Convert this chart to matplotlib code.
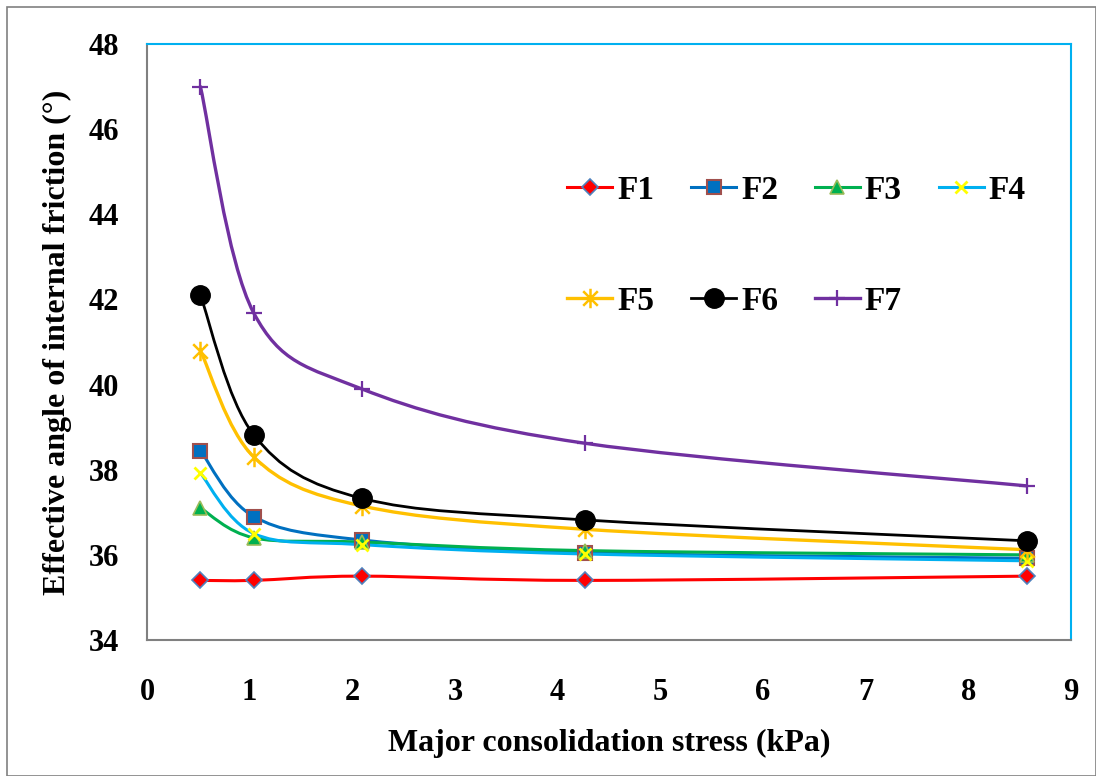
import numpy as np
import matplotlib
matplotlib.use('Agg')
import matplotlib.pyplot as plt
from matplotlib.path import Path
from matplotlib.patches import PathPatch, Rectangle
from matplotlib.lines import Line2D

plt.rcParams['font.family'] = ['Liberation Serif', 'DejaVu Serif']
plt.rcParams['font.weight'] = 'bold'

# major consolidation stress (kPa)
stress = [0.52, 1.04, 2.09, 4.27, 8.57]

f1 = [35.4, 35.4, 35.5, 35.4, 35.5]
f2 = [38.45, 36.9, 36.35, 36.05, 35.92]
f3 = [37.1, 36.4, 36.3, 36.1, 36.0]
f4 = [37.92, 36.5, 36.24, 36.02, 35.86]
f5 = [40.8, 38.3, 37.15, 36.6, 36.12]
f6 = [42.1, 38.82, 37.33, 36.82, 36.33]
f7 = [47.0, 41.68, 39.9, 38.62, 37.62]

labels = ['F1', 'F2', 'F3', 'F4', 'F5', 'F6', 'F7']

asterisk = Path([(0, -1), (0, 1), (-0.75, -0.75), (0.75, 0.75), (-0.75, 0.75), (0.75, -0.75)],
                [Path.MOVETO, Path.LINETO, Path.MOVETO, Path.LINETO, Path.MOVETO, Path.LINETO])

styles = [
    dict(color='#FF0000', marker='D', ms=8, mfc='#FF0000', mec='#4F81BD', mew=1.2, lw=2.2),
    dict(color='#0070C0', marker='s', ms=9.5, mfc='#0070C0', mec='#A0504D', mew=1.5, lw=2.2),
    dict(color='#00B050', marker='^', ms=9.5, mfc='#00B050', mec='#9BBB59', mew=1.2, lw=2.2),
    dict(color='#00B0F0', marker='x', ms=9, mfc='#FFFF00', mec='#FFFF00', mew=2, lw=2.2),
    dict(color='#FFC000', marker=asterisk, ms=14, mfc='#FFC000', mec='#FFC000', mew=1.8, lw=2.4),
    dict(color='#000000', marker='o', ms=14, mfc='#000000', mec='#000000', mew=1, lw=2.0),
    dict(color='#7030A0', marker='+', ms=12, mfc='#7030A0', mec='#7030A0', mew=1.6, lw=2.4),
]


def smooth_path(xs, ys):
    # excel-like smoothed line: bezier segments, catmull-rom control points
    pts = np.column_stack([xs, ys])
    n = len(pts)
    verts = [pts[0]]
    codes = [Path.MOVETO]
    for i in range(n - 1):
        p0 = pts[i - 1] if i > 0 else pts[i]
        p1 = pts[i]
        p2 = pts[i + 1]
        p3 = pts[i + 2] if i + 2 < n else pts[i + 1]
        c1 = p1 + (p2 - p0) / 6.0
        c2 = p2 - (p3 - p1) / 6.0
        verts += [c1, c2, p2]
        codes += [Path.CURVE4] * 3
    return Path(verts, codes)


fig = plt.figure(figsize=(10.96, 7.76), dpi=100)
ax = fig.add_axes([147 / 1096, 1 - 640 / 776, 924 / 1096, 596 / 776])

series = [f1, f2, f3, f4, f5, f6, f7]
handles = []
for vals, st, lab in zip(series, styles, labels):
    patch = PathPatch(smooth_path(stress, vals), fill=False, edgecolor=st['color'],
                      lw=st['lw'], capstyle='round', joinstyle='round')
    ax.add_patch(patch)
    ax.plot(stress, vals, linestyle='none', marker=st['marker'], ms=st['ms'],
            mfc=st['mfc'], mec=st['mec'], mew=st['mew'])
    handles.append(Line2D([], [], color=st['color'], lw=st['lw'], marker=st['marker'],
                          ms=st['ms'], mfc=st['mfc'], mec=st['mec'], mew=st['mew']))

ax.set_xlim(0, 9)
ax.set_ylim(34, 48)
ax.set_xticks(range(0, 10))
ax.set_yticks(range(34, 49, 2))
ax.tick_params(length=0, labelsize=22, pad=0)
ax.tick_params(axis='x', pad=27)
ax.tick_params(axis='y', pad=20)

for side in ['left', 'bottom']:
    ax.spines[side].set_color('#808080')
    ax.spines[side].set_linewidth(1.5)
for side in ['top', 'right']:
    ax.spines[side].set_color('#00B0F0')
    ax.spines[side].set_linewidth(1.5)

ax.set_xlabel('Major consolidation stress (kPa)', fontsize=23, fontweight='bold', labelpad=16)
ax.set_ylabel('Effective angle of internal friction (°)', fontsize=23, fontweight='bold', labelpad=12)

# legend fills column by column, so reorder to get F1-F4 on the first row
order = [0, 4, 1, 5, 2, 6, 3]
ax.legend([handles[i] for i in order], [labels[i] for i in order], ncol=4, loc='upper left',
          bbox_to_anchor=(0.455, 0.78), frameon=False, prop={'weight': 'bold', 'size': 24},
          handlelength=1.35, handletextpad=0.15, columnspacing=1.1, labelspacing=2.4,
          borderpad=0, borderaxespad=0)

fig.patches.append(Rectangle((7 / 1096, 0), 1 - 7 / 1096, 1 - 7 / 776, transform=fig.transFigure,
                             fill=False, edgecolor='#808080', lw=1.2))

fig.savefig('out.png', dpi=100)
